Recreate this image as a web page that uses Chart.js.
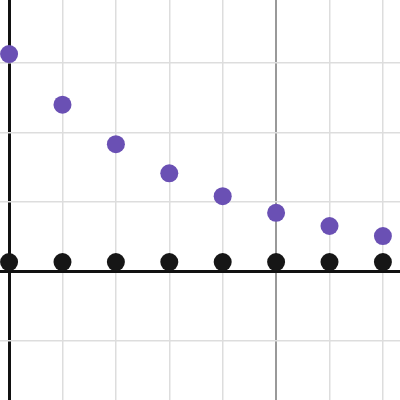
<!DOCTYPE html>
<html>
  <head>
    <meta charset='utf-8'>
    <title>Scatter</title>
    <style>
      body { margin: 0; background: #fff; }
    </style>
    <script src='https://cdn.jsdelivr.net/npm/chart.js@4/dist/chart.umd.min.js'></script>
  </head>
  <body>
    <canvas id='plot' width='400' height='400'></canvas>
    <script>
    var xs = [0, 1, 2, 3, 4, 5, 6, 7];
    var upper = [3.13, 2.40, 1.83, 1.41, 1.08, 0.84, 0.65, 0.505];
    var lower = [0.13, 0.13, 0.13, 0.13, 0.13, 0.13, 0.13, 0.13];

    function pts(ys) {
      return xs.map(function (x, i) { return { x: x, y: ys[i] }; });
    }

    function intTicks(scale) {
      var t = [];
      for (var v = Math.ceil(scale.min); v <= Math.floor(scale.max); v++) t.push({ value: v });
      scale.ticks = t;
    }

    new Chart(document.getElementById('plot'), {
      type: 'scatter',
      data: {
        datasets: [
          { data: pts(upper), backgroundColor: 'rgb(106,80,180)', borderWidth: 0, pointRadius: 9 },
          { data: pts(lower), backgroundColor: 'rgb(22,22,22)', borderWidth: 0, pointRadius: 9 }
        ]
      },
      options: {
        responsive: false,
        animation: false,
        layout: { padding: 0, autoPadding: false },
        plugins: { legend: { display: false }, tooltip: { enabled: false } },
        scales: {
          x: {
            type: 'linear', min: -0.17, max: 7.32,
            afterBuildTicks: intTicks,
            ticks: { display: false },
            border: { display: false },
            grid: {
              drawTicks: false,
              color: function (c) {
                if (c.tick.value === 0) return '#111';
                if (c.tick.value === 5) return '#999';
                return '#ddd';
              },
              lineWidth: function (c) { return c.tick.value === 0 ? 3 : (c.tick.value === 5 ? 2 : 1.5); }
            }
          },
          y: {
            type: 'linear', min: -1.86, max: 3.91,
            afterBuildTicks: intTicks,
            ticks: { display: false },
            border: { display: false },
            grid: {
              drawTicks: false,
              color: function (c) { return c.tick.value === 0 ? '#111' : '#ddd'; },
              lineWidth: function (c) { return c.tick.value === 0 ? 3 : 1.5; }
            }
          }
        }
      }
    });
    </script>
  </body>
</html>
